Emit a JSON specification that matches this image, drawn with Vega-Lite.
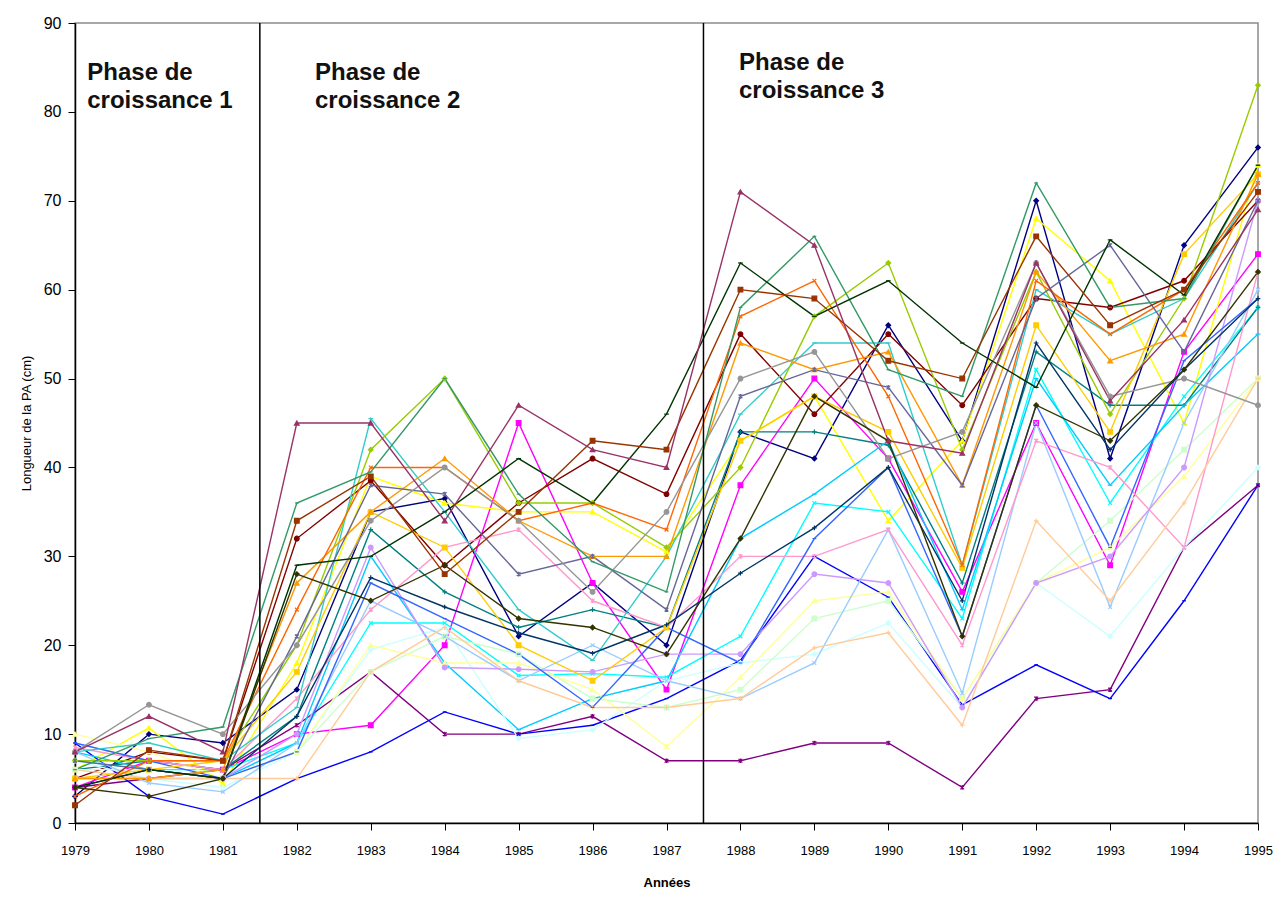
{
  "$schema": "https://vega.github.io/schema/vega-lite/v6.json",
  "width": 1183,
  "height": 800,
  "autosize": {"type": "none"},
  "padding": {"left": 75, "top": 23, "right": 22, "bottom": 74},
  "background": "white",
  "config": {"view": {"stroke": "#8c8c8c", "strokeWidth": 1.5}, "font": "Liberation Sans"},
  "datasets": {
    "series": [
      {"year":1979,"S01":3,"S02":4,"S03":6,"S04":7,"S05":4,"S06":5,"S07":6,"S08":9,"S09":8,"S10":7,"S11":6,"S12":10,"S13":8,"S14":8.5,"S15":5,"S16":6,"S17":9,"S18":8,"S19":7,"S20":5,"S21":5,"S22":3,"S23":7,"S24":8,"S25":4,"S26":6,"S27":4,"S28":4,"S29":2,"S30":8},
      {"year":1980,"S01":10,"S02":7,"S03":10.7,"S04":6,"S05":5,"S06":8,"S07":7,"S08":3,"S09":6,"S10":5,"S11":6,"S12":8,"S13":4.5,"S14":7,"S15":5,"S16":5,"S17":7,"S18":9,"S19":7,"S20":6,"S21":5,"S22":7,"S23":6,"S24":13.3,"S25":6,"S26":9.5,"S27":6,"S28":3,"S29":8.2,"S30":12},
      {"year":1981,"S01":9,"S02":6,"S03":4.4,"S04":6,"S05":6,"S06":7,"S07":6,"S08":1,"S09":5,"S10":4,"S11":5,"S12":5,"S13":3.5,"S14":6,"S15":5,"S16":5,"S17":5,"S18":7,"S19":7,"S20":7,"S21":6,"S22":7,"S23":5,"S24":10,"S25":5,"S26":10.8,"S27":5,"S28":5,"S29":7,"S30":8},
      {"year":1982,"S01":15,"S02":10,"S03":18,"S04":9,"S05":11,"S06":32,"S07":12,"S08":5,"S09":9,"S10":8,"S11":8,"S12":8,"S13":9,"S14":14,"S15":10,"S16":5,"S17":8,"S18":13,"S19":20,"S20":17,"S21":27,"S22":24,"S23":21,"S24":20,"S25":12,"S26":36,"S27":29,"S28":28,"S29":34,"S30":45},
      {"year":1983,"S01":35,"S02":11,"S03":39,"S04":22.5,"S05":17,"S06":38.5,"S07":33,"S08":8,"S09":30,"S10":19.5,"S11":17,"S12":20,"S13":25,"S14":24,"S15":31,"S16":17,"S17":27,"S18":45.5,"S19":42,"S20":35,"S21":35,"S22":40,"S23":38,"S24":34,"S25":27.6,"S26":39.5,"S27":30,"S28":25,"S29":39,"S30":45},
      {"year":1984,"S01":36.5,"S02":20,"S03":36,"S04":22.5,"S05":10,"S06":29,"S07":26,"S08":12.5,"S09":18,"S10":22,"S11":21,"S12":18,"S13":21,"S14":31,"S15":17.5,"S16":22,"S17":23,"S18":35,"S19":50,"S20":31,"S21":41,"S22":40,"S23":37,"S24":40,"S25":24.3,"S26":50,"S27":35,"S28":29,"S29":28,"S30":34},
      {"year":1985,"S01":21,"S02":45,"S03":35,"S04":16.6,"S05":10,"S06":36,"S07":22,"S08":10,"S09":10.5,"S10":9.5,"S11":19,"S12":18,"S13":16,"S14":33,"S15":17.3,"S16":16,"S17":19,"S18":24,"S19":36,"S20":20,"S21":34,"S22":34,"S23":28,"S24":34,"S25":21.4,"S26":37,"S27":41,"S28":23,"S29":35,"S30":47},
      {"year":1986,"S01":27,"S02":27,"S03":35,"S04":16.8,"S05":12,"S06":41,"S07":24,"S08":11,"S09":14,"S10":10.5,"S11":14,"S12":15,"S13":20,"S14":25,"S15":17,"S16":13,"S17":13,"S18":18.3,"S19":36,"S20":16,"S21":30,"S22":36,"S23":30,"S24":26,"S25":19.1,"S26":29.4,"S27":36,"S28":22,"S29":43,"S30":42},
      {"year":1987,"S01":20,"S02":15,"S03":30.5,"S04":16.4,"S05":7,"S06":37,"S07":22,"S08":14,"S09":16,"S10":16,"S11":13,"S12":8.6,"S13":16,"S14":22,"S15":19,"S16":13,"S17":22,"S18":30,"S19":31,"S20":22,"S21":30,"S22":33,"S23":24,"S24":35,"S25":22.3,"S26":26,"S27":46,"S28":19,"S29":42,"S30":40},
      {"year":1988,"S01":44,"S02":38,"S03":43,"S04":21,"S05":7,"S06":55,"S07":44,"S08":18.3,"S09":32,"S10":18,"S11":15,"S12":16.4,"S13":14,"S14":30,"S15":19,"S16":14,"S17":18,"S18":46,"S19":40,"S20":43,"S21":54,"S22":57,"S23":48,"S24":50,"S25":28.1,"S26":58,"S27":63,"S28":32,"S29":60,"S30":71},
      {"year":1989,"S01":41,"S02":50,"S03":48,"S04":36,"S05":9,"S06":46,"S07":44,"S08":30,"S09":37,"S10":19,"S11":23,"S12":25,"S13":18,"S14":30,"S15":28,"S16":19.7,"S17":32,"S18":54,"S19":57,"S20":48,"S21":51,"S22":61,"S23":51,"S24":53,"S25":33.2,"S26":66,"S27":57,"S28":48,"S29":59,"S30":65},
      {"year":1990,"S01":56,"S02":41,"S03":34,"S04":35,"S05":9,"S06":55,"S07":42.5,"S08":25.4,"S09":43,"S10":22.5,"S11":25,"S12":26,"S13":33,"S14":33,"S15":27,"S16":21.4,"S17":40,"S18":54,"S19":63,"S20":44,"S21":53,"S22":48,"S23":49,"S24":41,"S25":40,"S26":51,"S27":61,"S28":43,"S29":52,"S30":43},
      {"year":1991,"S01":43,"S02":26,"S03":43,"S04":23,"S05":4,"S06":47,"S07":27,"S08":13.3,"S09":24,"S10":13,"S11":14,"S12":14,"S13":14.6,"S14":20,"S15":13,"S16":11,"S17":21,"S18":29,"S19":42,"S20":28.7,"S21":38,"S22":29,"S23":38,"S24":44,"S25":25,"S26":48,"S27":54,"S28":21,"S29":50,"S30":41.6},
      {"year":1992,"S01":70,"S02":45,"S03":68,"S04":51,"S05":14,"S06":59,"S07":53,"S08":17.8,"S09":50,"S10":27,"S11":27,"S12":27,"S13":45,"S14":43,"S15":27,"S16":34,"S17":47,"S18":60,"S19":62,"S20":56,"S21":62,"S22":61,"S23":59,"S24":63,"S25":54,"S26":72,"S27":49,"S28":47,"S29":66,"S30":63},
      {"year":1993,"S01":41,"S02":29,"S03":61,"S04":36,"S05":15,"S06":58,"S07":47,"S08":14,"S09":38,"S10":21,"S11":34,"S12":31,"S13":24.3,"S14":40,"S15":30,"S16":25,"S17":31,"S18":55,"S19":46,"S20":44,"S21":52,"S22":55,"S23":65,"S24":48,"S25":42,"S26":58,"S27":65.6,"S28":43,"S29":56,"S30":47.5},
      {"year":1994,"S01":65,"S02":53,"S03":45,"S04":48,"S05":31,"S06":61,"S07":47,"S08":25,"S09":47,"S10":31,"S11":42,"S12":39,"S13":45,"S14":31,"S15":40,"S16":36,"S17":52,"S18":59,"S19":59,"S20":64,"S21":55,"S22":60,"S23":53,"S24":50,"S25":51,"S26":59,"S27":59.4,"S28":51,"S29":60,"S30":56.6},
      {"year":1995,"S01":76,"S02":64,"S03":74,"S04":58,"S05":38,"S06":70,"S07":58,"S08":38,"S09":55,"S10":40,"S11":50,"S12":50,"S13":60,"S14":62,"S15":70,"S16":50,"S17":59,"S18":72,"S19":83,"S20":73,"S21":73,"S22":72,"S23":70,"S24":47,"S25":59,"S26":74,"S27":74,"S28":62,"S29":71,"S30":69}
    ],
    "phases": [{"year": 1981.5}, {"year": 1987.5}],
    "labels": [
      {"year": 1979.166, "v": 83.6, "t": "Phase de\ncroissance 1"},
      {"year": 1982.246, "v": 83.6, "t": "Phase de\ncroissance 2"},
      {"year": 1987.98, "v": 84.7, "t": "Phase de\ncroissance 3"}
    ]
  },
  "layer": [
    {
      "data": {"name": "series"},
      "transform": [{"fold": ["S01","S02","S03","S04","S05","S06","S07","S08","S09","S10","S11","S12","S13","S14","S15","S16","S17","S18","S19","S20","S21","S22","S23","S24","S25","S26","S27","S28","S29","S30"], "as": ["s", "v"]}],
      "mark": {"type": "line", "strokeWidth": 1.4},
      "encoding": {
        "x": {"field": "year", "type": "quantitative",
              "scale": {"domain": [1979, 1995], "nice": false, "zero": false},
              "axis": {"values": [1979,1980,1981,1982,1983,1984,1985,1986,1987,1988,1989,1990,1991,1992,1993,1994,1995],
                       "format": "d", "grid": false, "domainColor": "black", "domainWidth": 1.5, "tickColor": "black", "tickSize": 7,
                       "labelFontSize": 13, "labelColor": "black", "labelPadding": 14, "labelFlush": false,
                       "title": "Années", "titleFontSize": 13, "titleFontWeight": "bold", "titleColor": "black", "titlePadding": 19}},
        "y": {"field": "v", "type": "quantitative",
              "scale": {"domain": [0, 90], "nice": false},
              "axis": {"values": [0,10,20,30,40,50,60,70,80,90], "grid": false, "domainColor": "black", "domainWidth": 1.5,
                       "tickColor": "black", "tickSize": 7, "labelFontSize": 16, "labelColor": "black", "labelPadding": 7,
                       "title": "Longueur de la PA (cm)", "titleFontSize": 13, "titleFontWeight": "normal", "titleColor": "black", "titlePadding": 10}},
        "color": {"field": "s", "type": "nominal", "legend": null,
                  "scale": {"domain": ["S01","S02","S03","S04","S05","S06","S07","S08","S09","S10","S11","S12","S13","S14","S15","S16","S17","S18","S19","S20","S21","S22","S23","S24","S25","S26","S27","S28","S29","S30"],
                            "range": ["#000080","#FF00FF","#FFFF00","#00FFFF","#800080","#800000","#008080","#0000FF","#00CCFF","#CCFFFF","#CCFFCC","#FFFF99","#99CCFF","#FF99CC","#CC99FF","#FFCC99","#3366FF","#33CCCC","#99CC00","#FFCC00","#FF9900","#FF6600","#666699","#969696","#003366","#339966","#003300","#333300","#993300","#993366"]}}
      }
    },
    {
      "data": {"name": "series"},
      "transform": [{"fold": ["S01","S02","S03","S04","S05","S06","S07","S08","S09","S10","S11","S12","S13","S14","S15","S16","S17","S18","S19","S20","S21","S22","S23","S24","S25","S26","S27","S28","S29","S30"], "as": ["s", "v"]}],
      "mark": {"type": "point", "size": 22, "strokeWidth": 1.2, "opacity": 1},
      "encoding": {
        "x": {"field": "year", "type": "quantitative"},
        "y": {"field": "v", "type": "quantitative"},
        "fill": {"field": "s", "type": "nominal", "legend": null,
                 "scale": {"domain": ["S01","S02","S03","S04","S05","S06","S07","S08","S09","S10","S11","S12","S13","S14","S15","S16","S17","S18","S19","S20","S21","S22","S23","S24","S25","S26","S27","S28","S29","S30"],
                           "range": ["#000080","#FF00FF","#FFFF00","#00FFFF","#800080","#800000","#008080","#0000FF","#00CCFF","#CCFFFF","#CCFFCC","#FFFF99","#99CCFF","#FF99CC","#CC99FF","#FFCC99","#3366FF","#33CCCC","#99CC00","#FFCC00","#FF9900","#FF6600","#666699","#969696","#003366","#339966","#003300","#333300","#993300","#993366"]}},
        "stroke": {"field": "s", "type": "nominal", "legend": null,
                   "scale": {"domain": ["S01","S02","S03","S04","S05","S06","S07","S08","S09","S10","S11","S12","S13","S14","S15","S16","S17","S18","S19","S20","S21","S22","S23","S24","S25","S26","S27","S28","S29","S30"],
                             "range": ["#000080","#FF00FF","#FFFF00","#00FFFF","#800080","#800000","#008080","#0000FF","#00CCFF","#CCFFFF","#CCFFCC","#FFFF99","#99CCFF","#FF99CC","#CC99FF","#FFCC99","#3366FF","#33CCCC","#99CC00","#FFCC00","#FF9900","#FF6600","#666699","#969696","#003366","#339966","#003300","#333300","#993300","#993366"]}},
        "shape": {"field": "s", "type": "nominal", "legend": null,
                  "scale": {"domain": ["S01","S02","S03","S04","S05","S06","S07","S08","S09","S10","S11","S12","S13","S14","S15","S16","S17","S18","S19","S20","S21","S22","S23","S24","S25","S26","S27","S28","S29","S30"],
                            "range": ["diamond","square","triangle-up","M-0.8,-0.8L0.8,0.8M-0.8,0.8L0.8,-0.8","M-0.8,-0.8L0.8,0.8M-0.8,0.8L0.8,-0.8M0,-1L0,1","circle","M-1,0L1,0M0,-1L0,1","M-0.8,0L0.8,0","M-1,0L1,0",
                                      "diamond","square","triangle-up","M-0.8,-0.8L0.8,0.8M-0.8,0.8L0.8,-0.8","M-0.8,-0.8L0.8,0.8M-0.8,0.8L0.8,-0.8M0,-1L0,1","circle","M-1,0L1,0M0,-1L0,1","M-0.8,0L0.8,0","M-1,0L1,0",
                                      "diamond","square","triangle-up","M-0.8,-0.8L0.8,0.8M-0.8,0.8L0.8,-0.8","M-0.8,-0.8L0.8,0.8M-0.8,0.8L0.8,-0.8M0,-1L0,1","circle","M-1,0L1,0M0,-1L0,1","M-0.8,0L0.8,0","M-1,0L1,0",
                                      "diamond","square","triangle-up"]}}
      }
    },
    {
      "data": {"name": "phases"},
      "mark": {"type": "rule", "color": "black", "strokeWidth": 1.5},
      "encoding": {"x": {"field": "year", "type": "quantitative"}}
    },
    {
      "data": {"name": "labels"},
      "mark": {"type": "text", "align": "left", "baseline": "alphabetic", "fontSize": 24, "fontWeight": "bold", "lineBreak": "\n", "lineHeight": 28, "color": "#111111", "font": "Liberation Sans"},
      "encoding": {
        "x": {"field": "year", "type": "quantitative"},
        "y": {"field": "v", "type": "quantitative"},
        "text": {"field": "t"}
      }
    }
  ]
}
